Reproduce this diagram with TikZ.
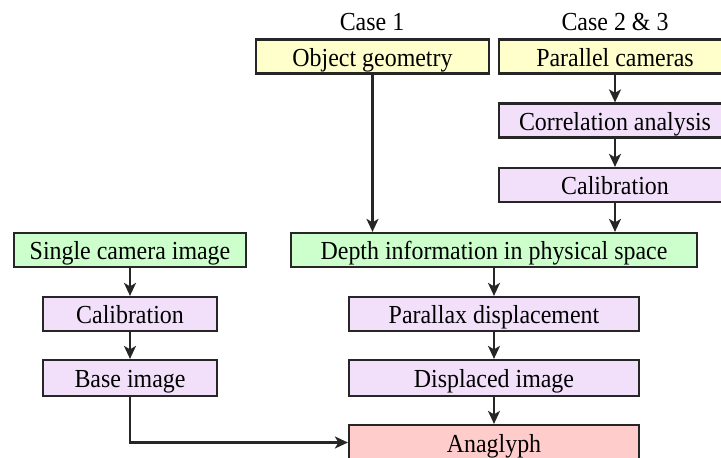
\documentclass[tikz,border=0pt]{standalone}
\usepackage{fontspec}
\setmainfont{Liberation Serif}[FakeStretch=0.92]
\usetikzlibrary{arrows.meta}
\definecolor{boxyellow}{HTML}{FFFFCC}
\definecolor{boxlilac}{HTML}{F2E0FA}
\definecolor{boxgreen}{HTML}{CCFFCC}
\definecolor{boxpink}{HTML}{FFCCCC}
\tikzset{
  stepbox/.style={draw=black!85,line width=2.2pt,inner sep=0pt,minimum height=34pt,
    text height=21pt,text depth=2pt,font=\fontsize{26}{30}\selectfont},
  inbox/.style={stepbox,fill=boxyellow},
  workbox/.style={stepbox,fill=boxlilac},
  depthbox/.style={stepbox,fill=boxgreen},
  outbox/.style={stepbox,fill=boxpink},
  flow/.style={->,line width=2.2pt,draw=black!85}
}

\begin{document}
\begin{tikzpicture}[line cap=butt,line join=miter,>={Stealth[length=13pt,width=12pt,inset=3.5pt]},x=1pt,y=-1pt]
\useasboundingbox (0,0) rectangle (721,458);
\clip (0,0) rectangle (721,458);
% case headings
\node[font=\fontsize{26}{30}\selectfont] (caseone) at (372,22) {Case 1};
\node[font=\fontsize{26}{30}\selectfont] (casetwo) at (615,22) {Case 2 \& 3};
% inputs
\node[inbox,minimum width=233pt] (geom) at (372.5,56.5) {Object geometry};
\node[inbox,minimum width=232pt] (cams) at (615,56.5) {Parallel cameras};
\node[workbox,minimum width=232pt] (corr) at (615,120.5) {Correlation analysis};
\node[workbox,minimum width=232pt] (calR) at (615,185) {Calibration};
% middle row
\node[depthbox,minimum width=232pt] (single) at (130,250) {Single camera image};
\node[depthbox,minimum width=406pt] (depth) at (494,250) {Depth information in physical space};
\node[workbox,minimum width=174pt] (calL) at (130,314) {Calibration};
\node[workbox,minimum width=174pt,minimum height=36pt] (base) at (130,378) {Base image};
\node[workbox,minimum width=290pt] (para) at (494,314) {Parallax displacement};
\node[workbox,minimum width=290pt,minimum height=36pt] (disp) at (494,378) {Displaced image};
\node[outbox,minimum width=290pt,minimum height=35pt] (ana) at (494,442.5) {Anaglyph};
% arrows
\draw[flow] (geom.south) -- (geom.south |- depth.north);
\draw[flow] (cams) -- (corr);
\draw[flow] (corr) -- (calR);
\draw[flow] (calR) -- (calR |- depth.north);
\draw[flow] (depth) -- (para);
\draw[flow] (para) -- (disp);
\draw[flow] (disp) -- (ana);
\draw[flow] (single) -- (calL);
\draw[flow] (calL) -- (base);
\draw[flow] (base.south) |- (ana.west);
\end{tikzpicture}
\end{document}
